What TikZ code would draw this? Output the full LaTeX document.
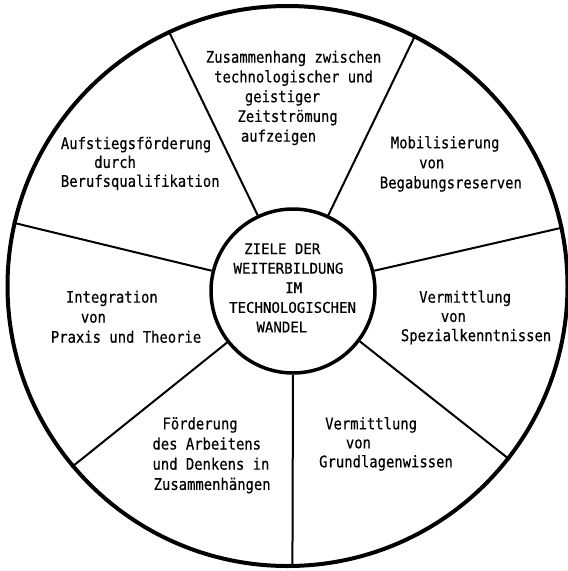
\documentclass[tikz,border=0pt]{standalone}
\usepackage{fontspec}
\newfontfamily\typefont[FakeStretch=0.867,FakeBold=0.4]{DejaVu Sans Mono}
\newfontfamily\capfont[FakeStretch=0.955,FakeBold=0.4]{DejaVu Sans Mono}
\newcommand\txtblk[2]{\fontsize{16}{#1}\selectfont\begin{tabular}[t]{@{}l@{}}#2\end{tabular}}
\newcommand\capblk[2]{\fontsize{14.7}{#1}\selectfont\begin{tabular}[t]{@{}l@{}}#2\end{tabular}}
\newcommand\ind[1]{\hspace*{#1pt}}
\begin{document}
\begin{tikzpicture}[x=1pt,y=-1pt,
  ring/.style={circle, draw, inner sep=0pt},
  spoke/.style={line width=2pt},
  txt/.style={anchor=base west, inner sep=0pt, font=\typefont},
  captxt/.style={anchor=base west, inner sep=0pt, font=\capfont}]
\useasboundingbox[fill=white] (0,0) rectangle (568,571);
% circles
\node[ring, line width=4pt, minimum size=560pt] (o) at (287.5,286) {};
\node[ring, line width=3.5pt, minimum size=164pt] (c) at (293,291) {};
% spokes
\foreach \a/\b in {115.3/115, 65/63.3, 14.5/12.3, -37.3/-38, -90/-89, -142.5/-140.8, 166/167.3}
  \draw[spoke] (c.\a) -- (o.\b);
% texts
\node[captxt] (title) at (229,254) {\capblk{19.6}{\ind{15}ZIELE DER\\ \ind{4.3}WEITERBILDUNG\\ \ind{56}IM\\ TECHNOLOGISCHEN\\ \ind{27.3}WANDEL}};
\node[txt] (t1) at (205.7,62.7) {\txtblk{19.75}{Zusammenhang zwischen\\ \ind{8.3}technologischer und\\ \ind{39}geistiger\\ \ind{31.6}Zeitströmung\\ \ind{35}aufzeigen}};
\node[txt] (t2) at (379.7,148.3) {\txtblk{20}{\ind{11}Mobilisierung\\ \ind{39.3}von\\ Begabungsreserven}};
\node[txt] (t3) at (400.7,302.7) {\txtblk{19.2}{\ind{18.3}Vermittlung\\ \ind{40}von\\ Spezialkenntnissen}};
\node[txt] (t4) at (319,429.3) {\txtblk{19}{\ind{6}Vermittlung\\ \ind{26.7}von\\ Grundlagenwissen}};
\node[txt] (t5) at (152.3,429.3) {\txtblk{20.2}{\ind{10}Förderung\\ des Arbeitens\\ und Denkens in\\ \ind{1.2}Zusammenhängen}};
\node[txt] (t6) at (50.7,302.7) {\txtblk{20}{\ind{15}Integration\\ \ind{30}von\\ Praxis und Theorie}};
\node[txt] (t7) at (60.7,149) {\txtblk{18.9}{Aufstiegsförderung\\ \ind{33.3}durch\\ Berufsqualifikation}};
\end{tikzpicture}
\end{document}
